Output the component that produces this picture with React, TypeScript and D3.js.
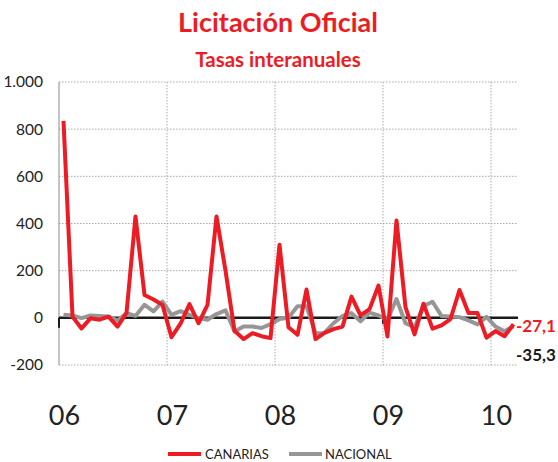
import React from 'react';
import * as d3 from 'd3';

const years = ['06', '07', '08', '09', '10'];
const months = d3.range(51).map(i => `${2006 + Math.floor(i / 12)}-${String((i % 12) + 1).padStart(2, '0')}`);

const canarias = [
    835, 5, -45, -2, -8, 5, -37, 20, 430, 97, 78, 55,
    -82, -25, 58, -23, 55, 430, 200, -55, -90, -65, -78, -86,
    310, -40, -72, 120, -90, -64, -48, -37, 90, 10, 37, 137,
    -79, 413, 45, -70, 60, -46, -32, -5, 118, 20, 20, -84,
    -56, -78, -27.1,
];
const nacional = [
    13, 10, -1, 10, 8, 6, -12, 20, 8, 55, 27, 69,
    13, 28, 13, -1, -8, 16, 32, -58, -37, -37, -43, -27,
    -5, 0, 49, 49, -65, -64, -23, 8, 20, -15, 22, 10,
    -8, 80, -23, -40, 50, 68, 8, 6, 3, -11, -28, 4,
    -37, -57, -35.3,
];
const yTicks = [-200, 0, 200, 400, 600, 800, 1000];

const RED = '#ed1c24';
const GRAY = '#969696';
const FONT = 'Lato, "Open Sans", sans-serif';

const W = 558;
const H = 462;
const left = 59, right = 518, top = 82, bottom = 365;

const App = () => {
    const x = d3.scaleBand<string>().domain(months).range([left, right]).paddingInner(0).paddingOuter(0);
    const y = d3.scaleLinear().domain([-200, 1000]).range([bottom, top]);
    const cx = (i: number) => (x(months[i]) as number) + x.bandwidth() / 2;
    const locale = d3.formatLocale({ decimal: ',', thousands: '.', grouping: [3], currency: ['', '€'], minus: '-' });
    const fmt = locale.format(',');
    const fmt1 = locale.format(',.1f');

    const line = d3.line<number>().x((d, i) => cx(i)).y(d => y(d));

    const yearStarts = years.map((yr, k) => k * 12);
    const last = canarias.length - 1;

    return (
        <svg width={W} height={H} style={{ position: 'absolute', left: 0, top: 0, background: '#fff' }}>
            <text x={278} y={32} textAnchor="middle" fill={RED} fontFamily={FONT} fontWeight="bold" fontSize={27}>Licitación Oficial</text>
            <text x={278} y={67} textAnchor="middle" fill={RED} fontFamily={FONT} fontWeight="bold" fontSize={20.5}>Tasas interanuales</text>

            {/* horizontal grid */}
            {yTicks.map(t => (
                <line key={t} x1={left} x2={right} y1={y(t)} y2={y(t)} stroke="#aaa" strokeWidth={1} strokeDasharray="1.5,1.5" />
            ))}
            {/* vertical grid at year boundaries */}
            {yearStarts.slice(1).map(s => (
                <line key={s} x1={x(months[s])} x2={x(months[s])} y1={top} y2={bottom} stroke="#aaa" strokeWidth={1} strokeDasharray="1.5,1.5" />
            ))}
            <line x1={left} x2={left} y1={top} y2={bottom} stroke="#8c8c8c" strokeWidth={1} />

            {yTicks.map(t => (
                <text key={t} x={43} y={y(t)} dy="0.35em" textAnchor="end" fill="#222" fontFamily={FONT} fontSize={15.5}>{fmt(t)}</text>
            ))}

            {/* zero axis with ticks */}
            <line x1={left} x2={right} y1={y(0)} y2={y(0)} stroke="#1a1a1a" strokeWidth={2.5} />
            {yearStarts.map(s => (
                <line key={s} x1={x(months[s])} x2={x(months[s])} y1={y(0)} y2={y(0) + (s === 0 ? 10 : 6)} stroke="#1a1a1a" strokeWidth={2} />
            ))}

            <path d={line(nacional) as string} fill="none" stroke={GRAY} strokeWidth={4} strokeLinejoin="round" />
            <path d={line(canarias) as string} fill="none" stroke={RED} strokeWidth={4} strokeLinejoin="round" />

            {years.map((yr, k) => (
                <text key={yr} x={cx(k * 12) + 1} y={425} textAnchor="middle" fill="#222" fontFamily={FONT} fontSize={27}>{yr}</text>
            ))}

            <text x={516} y={y(canarias[last]) + 2} dy="0.35em" fill={RED} fontFamily={FONT} fontWeight="bold" fontSize={17}>{fmt1(canarias[last])}</text>
            <text x={516} y={355} dy="0.35em" fill="#1a1a1a" fontFamily={FONT} fontWeight="bold" fontSize={17}>{fmt1(nacional[last])}</text>

            <g fontFamily={FONT} fontSize={13} fill="#222">
                <line x1={168} x2={201} y1={454} y2={454} stroke={RED} strokeWidth={4} />
                <text x={205} y={454} dy="0.35em">CANARIAS</text>
                <line x1={289} x2={322} y1={454} y2={454} stroke={GRAY} strokeWidth={4} />
                <text x={325} y={454} dy="0.35em">NACIONAL</text>
            </g>
        </svg>
    );
};

export default App;
